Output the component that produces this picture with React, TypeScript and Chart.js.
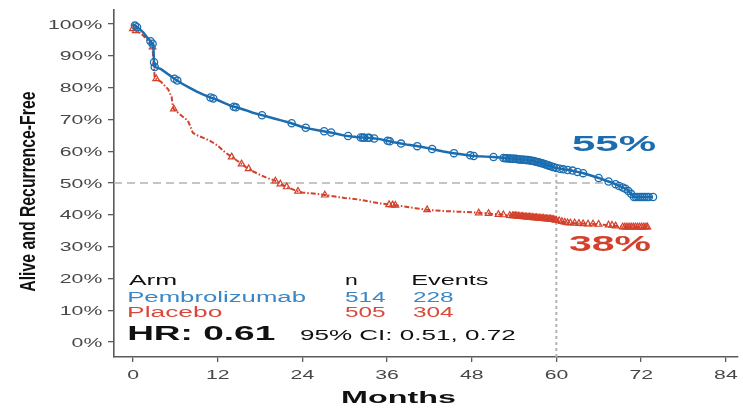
import React, { useEffect, useRef } from "react";
import { Chart, registerables } from "chart.js";

Chart.register(...registerables);

// ---------- data ----------
const xTickValues = [0, 12, 24, 36, 48, 60, 72, 84];
const yTickValues = [0, 10, 20, 30, 40, 50, 60, 70, 80, 90, 100];

// Kaplan-Meier curves: [month, % alive and recurrence-free]
const pembroCurve: [number, number][] = [
  [0, 100], [0.5, 99.2], [1, 98.3], [1.5, 97.3], [2, 95.8], [2.5, 94.6], [2.9, 93.5], [3.0, 88], [3.1, 86.5],
  [4, 85.8], [5, 84.2], [6, 82.6], [7, 81.2], [8, 80], [9, 78.8], [10, 77.8], [11, 76.9], [12, 76.1],
  [13, 75.1], [14, 74.2], [15, 73.6], [16, 72.9], [17, 72.1], [18, 71.5], [19, 70.9], [20, 70.3],
  [21, 69.7], [22, 69.1], [23, 68.4], [24, 67.6], [25, 67.1], [26, 66.7], [27, 66.3], [28, 65.9],
  [29, 65.4], [30, 64.9], [31, 64.6], [32, 64.4], [33, 64.2], [34, 64.1], [35, 63.8], [36, 63.3],
  [37, 62.8], [38, 62.4], [39, 62], [40, 61.7], [41, 61.3], [42, 60.9], [43, 60.4], [44, 59.9],
  [45, 59.5], [46, 59.2], [47, 58.9], [48, 58.6], [49, 58.4], [50, 58.3], [51, 58.2], [52, 58],
  [53, 57.8], [54, 57.6], [55, 57.4], [56, 57.2], [57, 56.8], [58, 56.2], [59, 55.4], [60, 54.7],
  [61, 54.3], [62, 54], [63, 53.5], [64, 53], [65, 52.3], [66, 51.6], [67, 50.8], [68, 50],
  [69, 49], [70, 48], [70.5, 46.8], [71, 45.6], [73.7, 45.6],
];

const placeboCurve: [number, number][] = [
  [0, 98.5], [0.5, 97.8], [1, 97.2], [1.5, 96.3], [2, 95], [2.5, 93.8], [2.8, 92.8], [2.9, 88],
  [3.0, 86], [3.1, 83], [4, 81.8], [5, 79.5], [5.5, 77], [5.7, 73.5], [6, 72.8], [7, 71],
  [7.8, 69.6], [8.2, 67.5], [8.5, 65.8], [9, 65.1], [10, 64.2], [11, 63.2], [12, 61.8], [13, 59.8],
  [14, 58.2], [15, 56.7], [16, 55], [17, 53.7], [18, 52.6], [19, 51.6], [20, 50.9], [21, 49.6],
  [22, 48.6], [23, 47.7], [24, 47], [25, 46.8], [26, 46.6], [27, 46.3], [28, 46], [29, 45.6],
  [30, 45.3], [31, 45.1], [32, 44.8], [33, 44.4], [34, 44], [35, 43.6], [36, 43.3], [38, 42.8],
  [40, 42.1], [42, 41.5], [44, 41.2], [46, 41], [48, 40.8], [50, 40.5], [52, 40.1], [54, 39.7],
  [56, 39.3], [58, 38.9], [59.5, 38.6], [60.3, 38.2], [61.5, 37.5], [64, 37.2], [66, 37], [68, 36.7],
  [69.3, 36.2], [72.9, 36.2],
];

// censored observations: [month, %]
const pembroCensor: [number, number][] = [
  [0.3, 99.5], [0.6, 99.0], [2.5, 94.6], [2.8, 93.8], [3.0, 88], [3.1, 86.5], [5.9, 82.8], [6.3, 82.2],
  [11.0, 76.9], [11.4, 76.6], [14.3, 74.0], [14.6, 73.8], [18.3, 71.3], [22.5, 68.8], [24.5, 67.4],
  [27.1, 66.3], [28.1, 65.9], [30.5, 64.8], [32.3, 64.3], [32.6, 64.3], [32.8, 64.2], [33.3, 64.2],
  [33.5, 64.2], [34.2, 64.0], [36.1, 63.3], [36.4, 63.1], [38.0, 62.4], [40.3, 61.6], [42.4, 60.7],
  [45.5, 59.4], [47.8, 58.7], [48.3, 58.5], [51.1, 58.2], [52.5, 57.9], [52.8, 57.8], [53.0, 57.8],
  [53.3, 57.7], [53.5, 57.7], [53.8, 57.6], [54.0, 57.6], [54.3, 57.6], [54.5, 57.5], [54.8, 57.4],
  [55.0, 57.4], [55.3, 57.3], [55.5, 57.3], [55.8, 57.2], [56.0, 57.2], [56.3, 57.1], [56.5, 57.0],
  [56.8, 56.9], [57.0, 56.8], [57.3, 56.6], [57.5, 56.5], [57.8, 56.3], [58.0, 56.2], [58.3, 56.0],
  [58.5, 55.8], [58.8, 55.6], [59.0, 55.4], [59.3, 55.2], [59.6, 55.0], [60.0, 54.7], [60.5, 54.5],
  [61.0, 54.3], [61.6, 54.1], [62.3, 53.9], [63.0, 53.5], [63.8, 53.1], [66.0, 51.6], [67.4, 50.5],
  [68.4, 49.6], [68.9, 49.1], [69.4, 48.6], [69.8, 48.2], [70.2, 47.5], [70.6, 46.6], [71.0, 45.6],
  [71.3, 45.6], [71.6, 45.6], [71.9, 45.6], [72.2, 45.6], [72.5, 45.6], [72.8, 45.6], [73.1, 45.6],
  [73.7, 45.6],
];

const placeboCensor: [number, number][] = [
  [0, 98.5], [0.4, 97.9], [2.8, 92.8], [3.3, 82.8], [5.8, 73.3], [14.0, 58.2], [15.4, 56.0],
  [16.4, 54.5], [20.2, 50.6], [20.9, 49.7], [21.8, 48.8], [23.4, 47.4], [27.2, 46.2], [36.3, 43.2],
  [36.8, 43.1], [37.2, 43.0], [41.7, 41.6], [49.0, 40.6], [50.4, 40.4], [51.8, 40.1], [52.5, 40.0],
  [53.4, 39.8], [53.8, 39.7], [54.0, 39.7], [54.2, 39.7], [54.4, 39.6], [54.6, 39.6], [54.8, 39.5],
  [55.0, 39.5], [55.2, 39.5], [55.4, 39.4], [55.6, 39.4], [55.8, 39.3], [56.0, 39.3], [56.2, 39.3],
  [56.4, 39.2], [56.6, 39.2], [56.8, 39.1], [57.0, 39.1], [57.2, 39.1], [57.4, 39.0], [57.6, 39.0],
  [57.8, 38.9], [58.0, 38.9], [58.2, 38.9], [58.4, 38.8], [58.6, 38.8], [58.8, 38.7], [59.0, 38.7],
  [59.2, 38.7], [59.4, 38.6], [59.6, 38.5], [59.8, 38.4], [60.0, 38.3], [60.4, 38.1], [60.8, 37.9],
  [61.2, 37.7], [61.6, 37.5], [62.0, 37.4], [62.6, 37.4], [63.2, 37.3], [63.8, 37.2], [64.5, 37.1],
  [65.2, 37.1], [66.0, 37.0], [67.4, 36.8], [67.9, 36.7], [68.4, 36.5], [69.4, 36.2], [69.7, 36.2],
  [70.0, 36.2], [70.3, 36.2], [70.6, 36.2], [70.9, 36.2], [71.2, 36.2], [71.5, 36.2], [71.8, 36.2],
  [72.1, 36.2], [72.4, 36.2], [72.7, 36.2], [72.9, 36.2],
];

const armNames = ["Pembrolizumab", "Placebo"];
const armN = [514, 505];
const armEvents = [228, 304];
const tableHeader = ["Arm", "n", "Events"];
const hrLabel = "HR: 0.61";
const ciLabel = "95% CI: 0.51, 0.72";
const landmarkMonth = 60;
const landmarkValue = 54.7;
const landmarkLabels = ["55%", "38%"];
const medianLevel = 50;
const medianLineEndMonth = 67.2;
const xTitle = "Months";
const yTitle = "Alive and Recurrence-Free";

// ---------- style ----------
const BLUE = "#1b6db0";
const RED = "#d4402b";
const BLUE_TXT = "#3a86c6";
const RED_TXT = "#d74a3b";
const AXIS = "#5a5a5a";
const FONT = '"Liberation Sans", Arial, Helvetica, sans-serif';

type InkOpts = {
  size: number;
  weight?: string;
  color: string;
  width?: number;
  sx?: number;
  align?: "left" | "right" | "center";
};

function inkWidth(ctx: CanvasRenderingContext2D, text: string, size: number, weight = "normal") {
  ctx.save();
  ctx.font = `${weight} ${size}px ${FONT}`;
  const m = ctx.measureText(text);
  ctx.restore();
  return m.actualBoundingBoxLeft + m.actualBoundingBoxRight;
}

function drawInk(ctx: CanvasRenderingContext2D, text: string, x: number, y: number, o: InkOpts) {
  ctx.save();
  ctx.font = `${o.weight || "normal"} ${o.size}px ${FONT}`;
  ctx.textAlign = "left";
  ctx.textBaseline = "alphabetic";
  const m = ctx.measureText(text);
  const inkL = m.actualBoundingBoxLeft;
  const inkW = m.actualBoundingBoxLeft + m.actualBoundingBoxRight;
  const s = o.width ? o.width / inkW : o.sx || 1;
  const align = o.align || "left";
  const left = align === "left" ? x : align === "right" ? x - inkW * s : x - (inkW * s) / 2;
  ctx.translate(left + inkL * s, y);
  ctx.scale(s, 1);
  ctx.fillStyle = o.color;
  ctx.fillText(text, 0, 0);
  ctx.restore();
}

const refLinesPlugin = {
  id: "refLines",
  beforeDatasetsDraw(chart: any) {
    const { ctx, chartArea, scales } = chart;
    const xs = scales.x;
    const ys = scales.y;
    ctx.save();
    ctx.strokeStyle = "#b3b3b3";
    ctx.lineWidth = 1.5;
    ctx.setLineDash([8, 5]);
    const y50 = ys.getPixelForValue(medianLevel);
    ctx.beginPath();
    ctx.moveTo(chartArea.left, y50);
    ctx.lineTo(xs.getPixelForValue(medianLineEndMonth), y50);
    ctx.stroke();
    ctx.setLineDash([3, 3]);
    ctx.lineWidth = 2;
    const x60 = xs.getPixelForValue(landmarkMonth);
    ctx.beginPath();
    ctx.moveTo(x60, chartArea.bottom);
    ctx.lineTo(x60, ys.getPixelForValue(landmarkValue));
    ctx.stroke();
    ctx.restore();
  },
};

const textPlugin = {
  id: "texts",
  afterDraw(chart: any) {
    const { ctx, scales } = chart;
    const xs = scales.x;
    const ys = scales.y;
    const tickColor = "#474747";
    const tickSize = 13;
    const tickSx = 55 / inkWidth(ctx, "100%", tickSize);
    yTickValues.forEach((v) => {
      drawInk(ctx, `${v}%`, 103, ys.getPixelForValue(v) + 4.6, { size: tickSize, color: tickColor, sx: tickSx, align: "right" });
    });
    xTickValues.forEach((v) => {
      drawInk(ctx, `${v}`, xs.getPixelForValue(v), 378.5, { size: tickSize, color: tickColor, sx: tickSx, align: "center" });
    });
    // axis titles
    drawInk(ctx, xTitle, 343, 403, { size: 17, weight: "bold", color: "#111", width: 112 });
    ctx.save();
    ctx.translate(35, 291.7);
    ctx.rotate(-Math.PI / 2);
    drawInk(ctx, yTitle, 0, 0, { size: 22, weight: "bold", color: "#111", width: 200 });
    ctx.restore();
    // table
    const colX = [129, 345, 413];
    const header = 285;
    const rows = [301.5, 316.7];
    drawInk(ctx, tableHeader[0], colX[0], header, { size: 14, color: "#111", width: 47 });
    drawInk(ctx, tableHeader[1], colX[1], header, { size: 14, color: "#111", width: 11.5 });
    drawInk(ctx, tableHeader[2], colX[2], header, { size: 14, color: "#111", width: 75.5 });
    const armColors = [BLUE_TXT, RED_TXT];
    const nameWidths = [177.4, 93.7];
    armNames.forEach((name, i) => {
      drawInk(ctx, name, colX[0], rows[i], { size: 14, color: armColors[i], width: nameWidths[i] });
      drawInk(ctx, String(armN[i]), colX[1], rows[i], { size: 14, color: armColors[i], width: 41 });
      drawInk(ctx, String(armEvents[i]), colX[2], rows[i], { size: 14, color: armColors[i], width: 41 });
    });
    drawInk(ctx, hrLabel, 129, 340, { size: 20, weight: "bold", color: "#111", width: 146 });
    drawInk(ctx, ciLabel, 300, 339.5, { size: 14, color: "#111", width: 216 });
    // landmark labels
    drawInk(ctx, landmarkLabels[0], 572, 151, { size: 22, weight: "bold", color: BLUE, width: 83 });
    drawInk(ctx, landmarkLabels[1], 569, 251, { size: 22, weight: "bold", color: RED, width: 81 });
  },
};

export default function App() {
  const canvasRef = useRef<HTMLCanvasElement | null>(null);

  useEffect(() => {
    const canvas = canvasRef.current;
    if (!canvas) return;
    const toXY = (arr: [number, number][]) => arr.map(([x, y]) => ({ x, y }));

    const chart = new Chart(canvas, {
      type: "line",
      data: {
        datasets: [
          {
            type: "scatter",
            label: "Pembrolizumab censored",
            data: toXY(pembroCensor),
            pointStyle: "circle",
            pointRadius: 3.6,
            pointBorderWidth: 1.3,
            borderColor: BLUE,
            backgroundColor: "rgba(0,0,0,0)",
          } as any,
          {
            type: "line",
            label: "Pembrolizumab",
            data: toXY(pembroCurve),
            borderColor: BLUE,
            borderWidth: 2.5,
            pointRadius: 0,
            tension: 0,
            fill: false,
          },
          {
            type: "scatter",
            label: "Placebo censored",
            data: toXY(placeboCensor),
            pointStyle: "triangle",
            pointRadius: 3.8,
            pointBorderWidth: 1.2,
            borderColor: RED,
            backgroundColor: "rgba(0,0,0,0)",
          } as any,
          {
            type: "line",
            label: "Placebo",
            data: toXY(placeboCurve),
            borderColor: RED,
            borderWidth: 2,
            borderDash: [5, 2, 1.5, 2],
            pointRadius: 0,
            tension: 0,
            fill: false,
          },
        ],
      },
      options: {
        responsive: false,
        animation: false,
        events: [],
        layout: { padding: { top: 10, right: 0, left: 0, bottom: 0 } },
        plugins: { legend: { display: false }, tooltip: { enabled: false }, title: { display: false } },
        scales: {
          x: {
            type: "linear",
            min: -2.67,
            max: 85.7,
            afterBuildTicks: (s: any) => {
              s.ticks = xTickValues.map((v) => ({ value: v }));
            },
            afterFit: (s: any) => {
              s.height = 51;
            },
            ticks: { display: false },
            grid: { drawOnChartArea: false, drawTicks: true, tickLength: 5, color: AXIS, lineWidth: 1.3 },
            border: { display: true, color: AXIS, width: 1.6 },
          },
          y: {
            type: "linear",
            min: -4.7,
            max: 104.4,
            afterBuildTicks: (s: any) => {
              s.ticks = yTickValues.map((v) => ({ value: v }));
            },
            afterFit: (s: any) => {
              s.width = 114;
            },
            ticks: { display: false },
            grid: { drawOnChartArea: false, drawTicks: true, tickLength: 6, color: AXIS, lineWidth: 1.3 },
            border: { display: true, color: AXIS, width: 1.6 },
          },
        },
      } as any,
      plugins: [refLinesPlugin, textPlugin],
    });
    return () => chart.destroy();
  }, []);

  return (
    <div style={{ position: "fixed", left: 0, top: 0, width: 743, height: 408, background: "#fff" }}>
      <canvas ref={canvasRef} width={743} height={408} style={{ display: "block" }} />
    </div>
  );
}
